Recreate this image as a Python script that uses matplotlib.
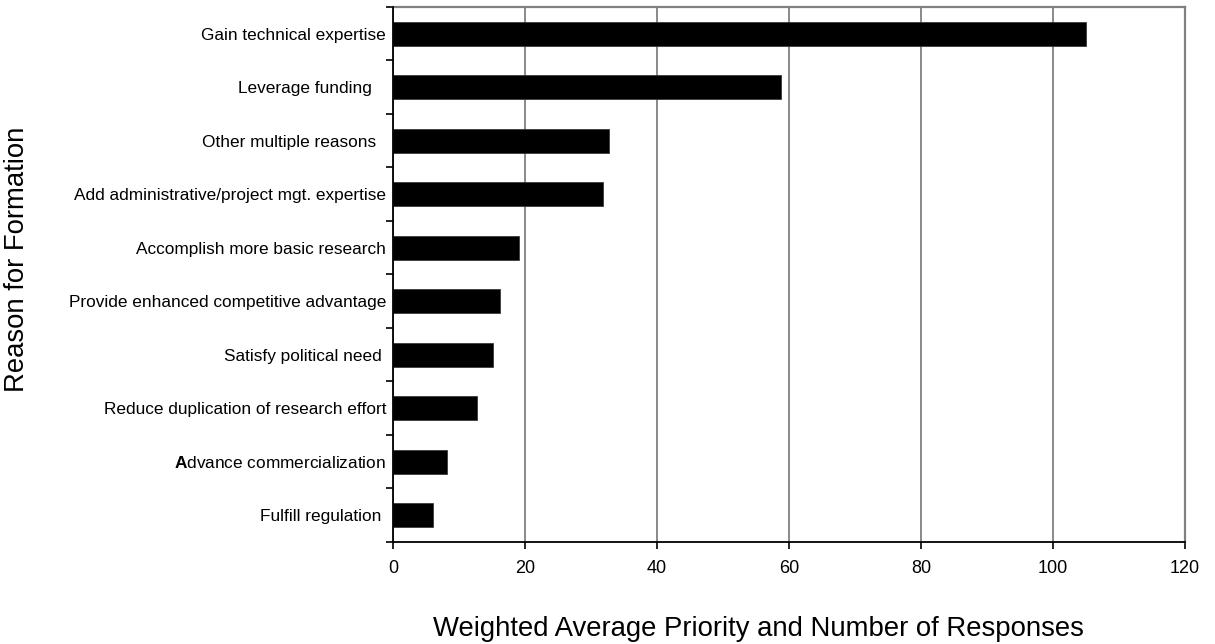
import matplotlib
matplotlib.use("Agg")
import matplotlib.pyplot as plt
from matplotlib.ticker import FixedLocator, NullFormatter

# ---- data ----
categories = [
    "Gain technical expertise",
    "Leverage funding   ",
    "Other multiple reasons  ",
    "Add administrative/project mgt. expertise",
    "Accomplish more basic research",
    "Provide enhanced competitive advantage",
    "Satisfy political need ",
    "Reduce duplication of research effort",
    r"$\mathbf{A}$dvance commercialization",
    "Fulfill regulation ",
]
values = [105, 58.8, 32.7, 31.8, 19.1, 16.2, 15.2, 12.8, 8.2, 6.1]
x_ticks = [0, 20, 40, 60, 80, 100, 120]
x_label = "Weighted Average Priority and Number of Responses"
y_label = "Reason for Formation"

plt.rcParams['font.family'] = ['Liberation Sans', 'DejaVu Sans']
plt.rcParams['mathtext.fontset'] = 'custom'
plt.rcParams['mathtext.rm'] = 'Liberation Sans'
plt.rcParams['mathtext.bf'] = 'Liberation Sans:bold'

fig = plt.figure(figsize=(12.15, 6.44), dpi=100)
W, H = 1215, 644
x0, x1, y_top, y_bot = 393, 1185, 7, 542
ax = fig.add_axes([x0 / W, 1 - y_bot / H, (x1 - x0) / W, (y_bot - y_top) / H])

pos = list(range(len(categories)))
ax.barh(pos, values, height=0.44, color='black', edgecolor='#3a3a3a', linewidth=0.6, zorder=3)

ax.set_xlim(0, 120)
ax.set_ylim(len(categories) - 0.5, -0.5)

ax.set_xticks(x_ticks)
ax.set_xticklabels([str(t) for t in x_ticks], fontsize=13)
ax.tick_params(axis='x', direction='out', length=5, width=1.2, pad=8, color='black')

ax.set_yticks(pos)
ax.set_yticklabels(categories, fontsize=12.4)
ax.tick_params(axis='y', which='major', length=0, pad=5)
ax.yaxis.set_minor_locator(FixedLocator([p - 0.5 for p in range(len(categories) + 1)]))
ax.yaxis.set_minor_formatter(NullFormatter())
ax.tick_params(axis='y', which='minor', direction='out', length=5, width=1.2, color='black')

ax.grid(axis='x', color='#808080', linewidth=1.3, zorder=1)
ax.set_axisbelow(True)

for side in ['top', 'right']:
    ax.spines[side].set_color('#808080')
    ax.spines[side].set_linewidth(1.6)
for side in ['left', 'bottom']:
    ax.spines[side].set_color('black')
    ax.spines[side].set_linewidth(1.3)
    ax.spines[side].set_zorder(4)

ax.set_xlabel(x_label, fontsize=19.8)
ax.xaxis.set_label_coords((758 - x0) / (x1 - x0), -(636 - y_bot) / (y_bot - y_top))
ax.xaxis.label.set_va('baseline')

ax.set_ylabel(y_label, fontsize=19.8)
ax.yaxis.set_label_coords(-(x0 - 17) / (x1 - x0), (y_bot - 259) / (y_bot - y_top))
ax.yaxis.label.set_va('center')

fig.savefig("out.png", dpi=100, facecolor='white')
